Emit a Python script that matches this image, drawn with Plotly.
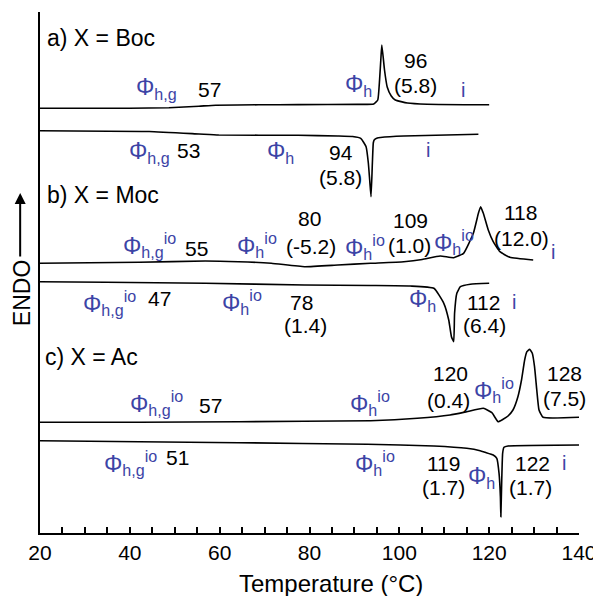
import plotly.graph_objects as go

# ---- data (temperature in °C, signal in arbitrary offset units) ----
a_heat_T = [20.0, 39.9, 48.7, 55.4, 59.1, 68.6, 77.5, 90.7, 94.3, 95.2, 95.6, 95.9, 96.1, 96.7, 97.3, 98.2, 99.1, 101.8, 106.2, 120.0]
a_heat_S = [424.7, 424.8, 425.2, 426.8, 427.8, 428.2, 428.4, 428.6, 429.0, 433.0, 453.0, 475.0, 488.0, 463.0, 446.0, 437.0, 433.0, 430.0, 428.8, 428.2]

a_cool_T = [20.0, 44.3, 55.4, 59.8, 77.5, 86.3, 89.6, 91.4, 92.6, 93.1, 93.4, 93.7, 94.0, 94.2, 94.4, 95.1, 95.8, 101.0, 117.6]
a_cool_S = [402.3, 401.5, 399.0, 398.0, 397.7, 397.0, 396.5, 394.7, 386.3, 370.0, 353.0, 336.3, 370.0, 390.0, 393.0, 395.0, 395.5, 397.0, 398.7]

b_heat_T = [20.0, 42.1, 56.8, 64.2, 71.5, 78.9, 86.3, 93.6, 101.0, 105.1, 109.1, 112.1, 114.3, 116.5, 117.6, 118.1, 118.7, 119.8, 120.9, 122.4, 124.6, 129.8]
b_heat_S = [269.7, 270.7, 272.0, 271.3, 269.7, 266.3, 268.0, 269.7, 271.3, 273.5, 277.0, 275.3, 279.7, 300.0, 319.7, 326.3, 319.7, 303.0, 291.3, 281.3, 275.7, 273.0]

b_cool_T = [20.0, 34.7, 56.8, 78.9, 93.6, 102.4, 107.7, 109.9, 111.0, 111.6, 112.1, 112.3, 112.8, 113.6, 115.8, 120.0]
b_cool_S = [251.3, 250.7, 249.7, 248.0, 247.5, 247.0, 244.7, 229.7, 213.0, 196.3, 191.3, 219.7, 239.7, 246.3, 248.7, 249.7]

c_heat_T = [20.0, 42.1, 64.2, 93.6, 104.0, 111.3, 115.0, 118.7, 120.6, 122.0, 123.1, 124.2, 125.3, 126.4, 127.2, 127.9, 128.4, 129.0, 129.6, 130.1, 130.6, 131.1, 132.0, 140.0]
c_heat_S = [110.7, 110.7, 111.3, 112.3, 114.7, 118.0, 121.3, 124.7, 120.3, 111.3, 113.7, 117.0, 123.0, 136.3, 153.0, 173.0, 181.3, 183.7, 179.7, 166.3, 143.0, 123.0, 115.7, 115.7]

c_cool_T = [20.0, 42.1, 64.2, 92.9, 107.7, 115.0, 118.0, 119.1, 120.9, 121.7, 122.2, 122.5, 122.6, 122.8, 123.0, 123.3, 124.2, 140.0]
c_cool_S = [92.3, 91.3, 90.3, 88.7, 87.0, 84.7, 82.3, 80.7, 78.0, 74.7, 59.7, 36.3, 16.3, 53.0, 79.7, 85.7, 87.0, 88.0]

# panel titles: (text, T, signal)
panel_titles = [("a) X = Boc", 21.1, 495), ("b) X = Moc", 21.1, 338), ("c) X = Ac", 20.7, 176)]

PHI_HG = "Φ<sub>h,g</sub>"
PHI_HG_IO = "Φ<sub>h,g</sub><sup>io</sup>"
PHI_H = "Φ<sub>h</sub>"
PHI_H_IO = "Φ<sub>h</sub><sup>io</sup>"

# blue phase labels: (text, T, signal)
phase_labels = [
    (PHI_HG, 45.9, 445), (PHI_H, 90.9, 448),
    (PHI_HG, 44.3, 381), (PHI_H, 73.5, 381),
    (PHI_HG_IO, 44.3, 288), (PHI_H_IO, 68.2, 288), (PHI_H_IO, 92.3, 286), (PHI_H_IO, 112.2, 291),
    (PHI_HG_IO, 35.5, 230), (PHI_H_IO, 64.9, 231), (PHI_H, 105.1, 233),
    (PHI_HG_IO, 45.9, 130), (PHI_H_IO, 93.4, 130), (PHI_H_IO, 121.0, 143),
    (PHI_HG_IO, 40.1, 70), (PHI_H_IO, 94.5, 70), (PHI_H, 118.3, 56),
]
# isotropic-phase marks: (T, signal)
iso_labels = [(114.1, 443), (106.4, 383), (134.3, 281), (125.6, 231), (142.7, 130), (136.7, 70)]

# black transition values: (text, T, signal)
value_labels = [
    ("57", 57.8, 444), ("96", 103.5, 473), ("(5.8)", 103.5, 448),
    ("53", 53.1, 383), ("94", 87.0, 381), ("(5.8)", 87.0, 356),
    ("55", 54.9, 285), ("80", 80.1, 315), ("(-5.2)", 80.3, 287), ("109", 102.4, 313), ("(1.0)", 102.2, 288),
    ("118", 127.0, 321), ("(12.0)", 127.2, 295),
    ("47", 46.5, 235), ("78", 78.3, 231), ("(1.4)", 79.2, 208), ("112", 118.8, 231), ("(6.4)", 119.0, 208),
    ("57", 58.0, 128), ("120", 111.3, 160), ("(0.4)", 111.0, 133), ("128", 136.7, 160), ("(7.5)", 136.7, 135),
    ("51", 50.5, 76), ("119", 109.9, 70), ("(1.7)", 109.9, 46), ("122", 129.6, 70), ("(1.7)", 129.2, 46),
]

x_ticks = [20, 40, 60, 80, 100, 120, 140]

FONT = "Liberation Sans, Arial, sans-serif"
BLUE = "#3c44a6"

fig = go.Figure()
for T, S in [(a_heat_T, a_heat_S), (a_cool_T, a_cool_S), (b_heat_T, b_heat_S),
             (b_cool_T, b_cool_S), (c_heat_T, c_heat_S), (c_cool_T, c_cool_S)]:
    fig.add_trace(go.Scatter(x=T, y=S, mode="lines",
                             line=dict(color="black", width=1.6, shape="spline", smoothing=0.4),
                             showlegend=False, hoverinfo="skip"))

ann = []
for t, x, y in panel_titles:
    ann.append(dict(text=t, x=x, y=y, xref="x", yref="y", xanchor="left", yanchor="middle",
                    showarrow=False, font=dict(family=FONT, size=23, color="black")))
for t, x, y in phase_labels:
    ann.append(dict(text=t, x=x, y=y, xref="x", yref="y", xanchor="center", yanchor="middle",
                    showarrow=False, font=dict(family=FONT, size=23, color=BLUE)))
for x, y in iso_labels:
    ann.append(dict(text="i", x=x, y=y, xref="x", yref="y", xanchor="center", yanchor="middle",
                    showarrow=False, font=dict(family=FONT, size=20, color=BLUE)))
for t, x, y in value_labels:
    ann.append(dict(text=t, x=x, y=y, xref="x", yref="y", xanchor="center", yanchor="middle",
                    showarrow=False, font=dict(family=FONT, size=21, color="black")))

# ENDO label and arrow
ann.append(dict(text="ENDO", x=-0.0331, y=0.4607, xref="paper", yref="paper", textangle=-90,
                xanchor="center", yanchor="middle", showarrow=False,
                font=dict(family=FONT, size=23, color="black")))
ann.append(dict(text="", x=-0.0368, y=0.6526, xref="paper", yref="paper", showarrow=True,
                ax=0, ay=65, arrowhead=2, arrowsize=1.1, arrowwidth=2, arrowcolor="black"))
# x-axis title (sits slightly right of the axis centre in the original)
ann.append(dict(text="Temperature (°C)", x=0.54, y=-0.096, xref="paper", yref="paper",
                xanchor="center", yanchor="middle", showarrow=False,
                font=dict(family=FONT, size=24, color="black")))

# page body adds an 8 px offset; the figure is sized so the plot area lands at 40..583 x 12..533
fig.update_layout(
    width=593, height=588,
    margin=dict(l=32, r=18, t=4, b=63),
    paper_bgcolor="white", plot_bgcolor="white",
    annotations=ann,
    xaxis=dict(range=[20, 140], tickvals=x_ticks, ticktext=[str(v) for v in x_ticks],
               ticks="inside", ticklen=6, tickwidth=1.5, tickcolor="black",
               minor=dict(dtick=5, ticks="inside", ticklen=6, tickwidth=1.5, tickcolor="black"),
               showline=True, linecolor="black", linewidth=2, showgrid=False, zeroline=False,
               tickfont=dict(family=FONT, size=21, color="black")),
    yaxis=dict(range=[0, 521], showticklabels=False, ticks="", showline=True, linecolor="black",
               linewidth=2, showgrid=False, zeroline=False),
)

fig.write_html("out.html")
